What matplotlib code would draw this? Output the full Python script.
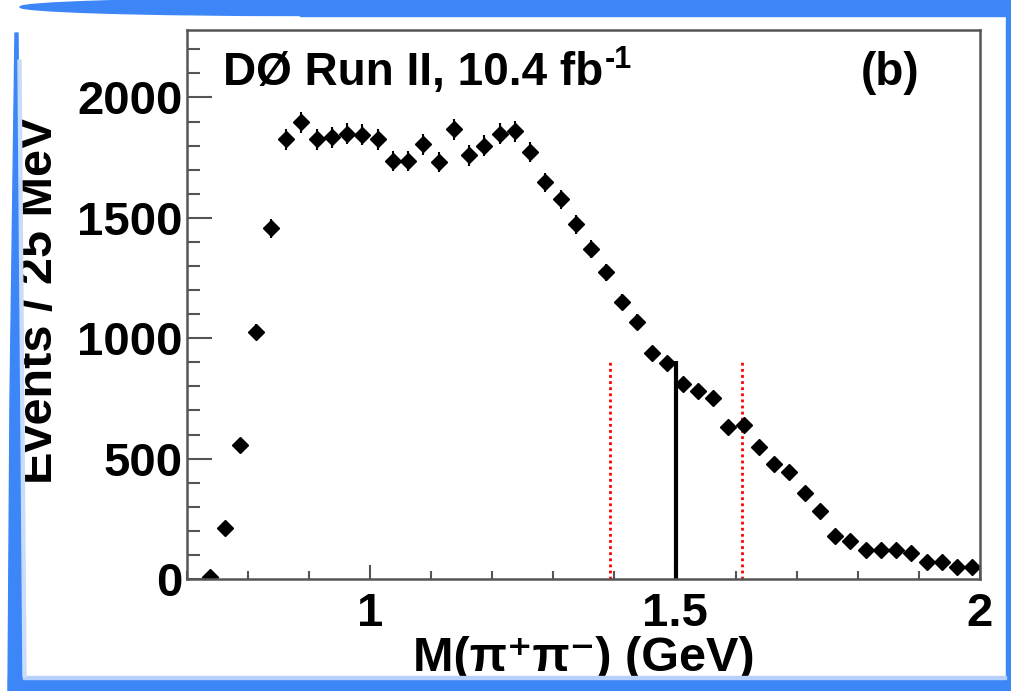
import numpy as np
import matplotlib
matplotlib.use("Agg")
import matplotlib.pyplot as plt
from matplotlib.patches import Polygon, Ellipse
from matplotlib.ticker import MultipleLocator

plt.rcParams['font.family'] = ['Liberation Sans', 'DejaVu Sans']
plt.rcParams['font.weight'] = 'bold'

# bin centres of M(pi+pi-) in GeV, 25 MeV bins
mass = [0.7375, 0.7625, 0.7875, 0.8125, 0.8375, 0.8625, 0.8875, 0.9125, 0.9375, 0.9625,
        0.9875, 1.0125, 1.0375, 1.0625, 1.0875, 1.1125, 1.1375, 1.1625, 1.1875, 1.2125,
        1.2375, 1.2625, 1.2875, 1.3125, 1.3375, 1.3625, 1.3875, 1.4125, 1.4375, 1.4625,
        1.4875, 1.5125, 1.5375, 1.5625, 1.5875, 1.6125, 1.6375, 1.6625, 1.6875, 1.7125,
        1.7375, 1.7625, 1.7875, 1.8125, 1.8375, 1.8625, 1.8875, 1.9125, 1.9375, 1.9625,
        1.9875]
events = [10, 212, 556, 1025, 1456, 1826, 1896, 1826, 1834, 1850,
          1846, 1826, 1734, 1734, 1805, 1730, 1867, 1759, 1800, 1850,
          1859, 1772, 1647, 1577, 1473, 1369, 1274, 1149, 1066, 938,
          896, 809, 780, 751, 631, 639, 548, 477, 444, 357,
          282, 178, 158, 120, 120, 120, 108, 71, 71, 50,
          50]

window_edges = [1.393, 1.610]   # red dotted lines
window_centre = 1.502            # black line
line_top = 905

fig = plt.figure(figsize=(10.12, 6.91), dpi=100)
ax = fig.add_axes([187 / 1012, 1 - 579 / 691, 793 / 1012, 549 / 691])

ax.vlines(window_edges, 0, line_top, colors='red', linestyles=(0, (1, 1.2)), linewidth=2)
ax.vlines(window_centre, 0, line_top, colors='black', linewidth=3)

ax.errorbar(mass, events, yerr=np.sqrt(events), fmt='D', color='black',
            markersize=8.5, elinewidth=1.5, capsize=0)

ax.set_xlim(0.7, 2.0)
ax.set_ylim(0, 2280)

ax.xaxis.set_minor_locator(MultipleLocator(0.1))
ax.yaxis.set_major_locator(MultipleLocator(500))
ax.yaxis.set_minor_locator(MultipleLocator(100))
ax.set_xticks([1, 1.5, 2])
ax.set_xticklabels(['1', '1.5', '2'])

ax.tick_params(axis='both', which='both', direction='in', color='#555555',
               top=False, right=False, labelsize=34, width=1.5)
ax.tick_params(axis='y', which='major', length=18, pad=3)
ax.tick_params(axis='y', which='minor', length=9)
ax.tick_params(axis='x', which='major', length=10, pad=9)
ax.tick_params(axis='x', which='minor', length=6)
for s in ax.spines.values():
    s.set_color('#555555')
    s.set_linewidth(1.8)

ax.set_xlabel('M(π⁺π⁻) (GeV)', fontsize=35, fontweight='bold')
ax.xaxis.set_label_coords(0.5, -0.103)
ax.set_ylabel('Events / 25 MeV', fontsize=35, fontweight='bold')
ax.yaxis.set_label_coords(-0.158, 0.508)

lumi = ax.text(0.045, 0.90, 'DØ Run II, 10.4 fb', transform=ax.transAxes,
               fontsize=33, fontweight='bold', ha='left', va='baseline')
ax.text(0.85, 0.90, '(b)', transform=ax.transAxes,
        fontsize=33, fontweight='bold', ha='left', va='baseline')

# small "-1" superscript right after the luminosity text
fig.canvas.draw()
bb = lumi.get_window_extent().transformed(ax.transAxes.inverted())
ax.text(bb.x1 + 0.002, 0.90 + 0.03, '-1', transform=ax.transAxes,
        fontsize=22, fontweight='bold', ha='left', va='baseline')

# blue slide border
blue = '#3d86f7'
W, H = 1012, 691


def fx(p):
    return [(x / W, 1 - y / H) for x, y in p]


fig.add_artist(Ellipse((300 / W, 1 - 7 / H), 560 / W, 17 / H, color=blue,
                       transform=fig.transFigure))
fig.add_artist(Polygon(fx([(300, 0), (1012, 0), (1012, 16), (300, 16)]),
                       color=blue, transform=fig.transFigure))
fig.add_artist(Polygon(fx([(1006, 0), (1012, 0), (1012, 691), (1006, 691)]),
                       color=blue, transform=fig.transFigure))
fig.add_artist(Polygon(fx([(8, 677), (1012, 677), (1012, 691), (8, 691)]),
                       color=blue, transform=fig.transFigure))
fig.add_artist(Polygon(fx([(15, 33), (18, 33), (23, 677), (23, 691), (8, 691), (10, 400)]),
                       color=blue, transform=fig.transFigure))
fig.add_artist(Polygon(fx([(23, 676), (1006, 676), (1006, 679), (23, 679)]),
                       color='#b5d0fa', transform=fig.transFigure))
fig.add_artist(Polygon(fx([(18, 60), (21, 60), (26, 677), (23, 677)]),
                       color='#c8dcfb', transform=fig.transFigure))

fig.savefig('out.png', dpi=100)
